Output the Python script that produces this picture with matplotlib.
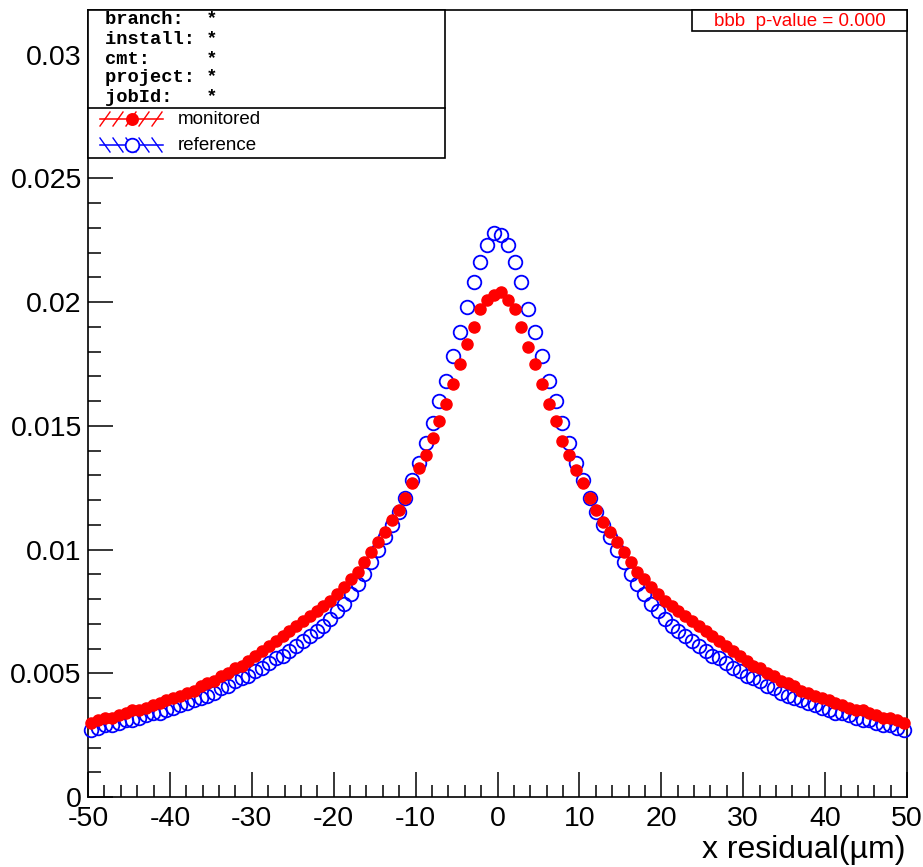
import numpy as np
import matplotlib.pyplot as plt
from matplotlib.lines import Line2D
from matplotlib.patches import Rectangle
from matplotlib.ticker import MultipleLocator

W, H = 923, 867

# normalised bin contents, 120 bins between -50 and 50
monitored = [
    0.0030, 0.0031, 0.0032, 0.0032, 0.0033, 0.0034, 0.0035, 0.0035, 0.0036, 0.0037,
    0.0038, 0.0039, 0.0040, 0.0041, 0.0042, 0.0043, 0.0045, 0.0046, 0.0047, 0.0049,
    0.0050, 0.0052, 0.0053, 0.0055, 0.0057, 0.0059, 0.0061, 0.0063, 0.0065, 0.0067,
    0.0069, 0.0071, 0.0073, 0.0075, 0.0077, 0.0079, 0.0082, 0.0085, 0.0088, 0.0091,
    0.0095, 0.0099, 0.0103, 0.0107, 0.0112, 0.0116, 0.0121, 0.0127, 0.0133, 0.0138,
    0.0145, 0.0152, 0.0159, 0.0167, 0.0175, 0.0183, 0.0190, 0.0197, 0.0201, 0.0203,
    0.0204, 0.0201, 0.0197, 0.0190, 0.0182, 0.0175, 0.0167, 0.0159, 0.0152, 0.0144,
    0.0138, 0.0132, 0.0127, 0.0121, 0.0116, 0.0111, 0.0107, 0.0103, 0.0099, 0.0095,
    0.0091, 0.0088, 0.0085, 0.0082, 0.0079, 0.0077, 0.0075, 0.0073, 0.0071, 0.0069,
    0.0067, 0.0065, 0.0063, 0.0061, 0.0059, 0.0057, 0.0055, 0.0053, 0.0052, 0.0050,
    0.0049, 0.0047, 0.0046, 0.0045, 0.0043, 0.0042, 0.0041, 0.0040, 0.0039, 0.0038,
    0.0037, 0.0036, 0.0035, 0.0035, 0.0034, 0.0033, 0.0032, 0.0032, 0.0031, 0.0030,
]
reference = [
    0.0027, 0.0028, 0.0029, 0.0029, 0.0030, 0.0031, 0.0031, 0.0032, 0.0033, 0.0034,
    0.0034, 0.0035, 0.0036, 0.0037, 0.0038, 0.0039, 0.0040, 0.0041, 0.0042, 0.0044,
    0.0045, 0.0047, 0.0048, 0.0049, 0.0051, 0.0052, 0.0054, 0.0056, 0.0057, 0.0059,
    0.0061, 0.0063, 0.0065, 0.0067, 0.0069, 0.0072, 0.0075, 0.0078, 0.0082, 0.0086,
    0.0090, 0.0095, 0.0100, 0.0105, 0.0110, 0.0115, 0.0121, 0.0128, 0.0135, 0.0143,
    0.0151, 0.0160, 0.0168, 0.0178, 0.0188, 0.0198, 0.0208, 0.0216, 0.0223, 0.0228,
    0.0227, 0.0223, 0.0216, 0.0208, 0.0197, 0.0188, 0.0178, 0.0168, 0.0160, 0.0151,
    0.0143, 0.0135, 0.0128, 0.0121, 0.0115, 0.0110, 0.0105, 0.0100, 0.0095, 0.0090,
    0.0086, 0.0082, 0.0078, 0.0075, 0.0072, 0.0069, 0.0067, 0.0065, 0.0063, 0.0061,
    0.0059, 0.0057, 0.0056, 0.0054, 0.0052, 0.0051, 0.0049, 0.0048, 0.0047, 0.0045,
    0.0044, 0.0042, 0.0041, 0.0040, 0.0039, 0.0038, 0.0037, 0.0036, 0.0035, 0.0034,
    0.0034, 0.0033, 0.0032, 0.0031, 0.0031, 0.0030, 0.0029, 0.0029, 0.0028, 0.0027,
]
x_range = (-50, 50)
xticks = [-50, -40, -30, -20, -10, 0, 10, 20, 30, 40, 50]
yticks = [0, 0.005, 0.01, 0.015, 0.02, 0.025, 0.03]
ytick_labels = ['0', '0.005', '0.01', '0.015', '0.02', '0.025', '0.03']
xlabel = 'x residual(\u00b5m)'
header_keys = ['branch:', 'install:', 'cmt:', 'project:', 'jobId:']
header_vals = ['*', '*', '*', '*', '*']
legend_labels = ['monitored', 'reference']
pvalue_text = 'bbb  p-value = 0.000'

plt.rcParams['font.family'] = ['Liberation Sans', 'DejaVu Sans']


def fxy(px, py):
    # pixel position in the picture -> figure fraction
    return px / W, 1 - py / H


fig = plt.figure(figsize=(W / 100, H / 100), dpi=100)
l, b = fxy(88, 797)
r, t = fxy(907, 10)
ax = fig.add_axes([l, b, r - l, t - b])

n = len(monitored)
edges = np.linspace(x_range[0], x_range[1], n + 1)
centers = 0.5 * (edges[:-1] + edges[1:])

ax.plot(centers, reference, 'o', mfc='none', mec='blue', mew=1.3, ms=9.8,
        clip_on=False, zorder=3)
ax.plot(centers, monitored, 'o', color='red', mec='red', ms=8,
        clip_on=False, zorder=4)

ax.set_xlim(*x_range)
ax.set_ylim(0, 0.0318)
ax.set_xticks(xticks)
ax.set_xticklabels([str(v) for v in xticks])
ax.set_yticks(yticks)
ax.set_yticklabels(ytick_labels)
ax.xaxis.set_minor_locator(MultipleLocator(2))
ax.yaxis.set_minor_locator(MultipleLocator(0.001))
ax.tick_params(which='both', direction='in', top=False, right=False, width=1.1,
               color='black')
ax.tick_params(which='major', length=18, labelsize=20.5)
ax.tick_params(axis='x', which='major', pad=6.5)
ax.tick_params(axis='y', which='major', pad=4.5)
ax.tick_params(which='minor', length=9)
for s in ax.spines.values():
    s.set_linewidth(1.2)

fig.text(*fxy(906, 858), xlabel, ha='right', va='baseline', fontsize=23)

# stats / legend box, top left
bx0, by0, bx1, by1 = 88, 10, 445, 158
fig.add_artist(Rectangle(fxy(bx0, by1), (bx1 - bx0) / W, (by1 - by0) / H,
                         transform=fig.transFigure, facecolor='white',
                         edgecolor='black', lw=1.2, zorder=5))
fig.add_artist(Line2D([bx0 / W, bx1 / W], [1 - 108 / H] * 2,
                      transform=fig.transFigure, color='black', lw=1.2, zorder=6))

row_y = [20, 40, 59, 78, 97]
for key, val, yy in zip(header_keys, header_vals, row_y):
    fig.text(*fxy(105, yy), f'{key:<9}{val}', va='center', fontsize=13.5,
             family=['Liberation Mono', 'DejaVu Sans Mono'], weight='bold',
             zorder=7)


def legend_symbol(yc, color, slant, filled):
    x0, x1, xm = 100, 163, 131.5
    fig.add_artist(Line2D([x0 / W, x1 / W], [1 - yc / H] * 2,
                          transform=fig.transFigure, color=color, lw=1.1, zorder=7))
    for xs in [105, 118, 131, 144, 157]:
        fig.add_artist(Line2D([(xs - 5 * slant) / W, (xs + 5 * slant) / W],
                              [1 - (yc + 7) / H, 1 - (yc - 7) / H],
                              transform=fig.transFigure, color=color, lw=1.0,
                              zorder=7))
    fig.add_artist(Line2D([xm / W], [1 - yc / H], transform=fig.transFigure,
                          marker='o', ms=9.8 if not filled else 8,
                          mfc=color if filled else 'white', mec=color, mew=1.3,
                          linestyle='none', zorder=8))


legend_symbol(119, 'red', 1, True)
legend_symbol(145, 'blue', -1, False)
for lab, yy in zip(legend_labels, [119, 145]):
    fig.text(*fxy(178, yy), lab, va='center', fontsize=13.5, zorder=7)

# p-value box, top right
px0, py0, px1, py1 = 692, 10, 907, 31
fig.add_artist(Rectangle(fxy(px0, py1), (px1 - px0) / W, (py1 - py0) / H,
                         transform=fig.transFigure, facecolor='white',
                         edgecolor='black', lw=1.2, zorder=5))
fig.text(*fxy((px0 + px1) / 2, 21), pvalue_text, ha='center', va='center',
         color='red', fontsize=13.5, zorder=7)

fig.savefig('out.png', dpi=100)
